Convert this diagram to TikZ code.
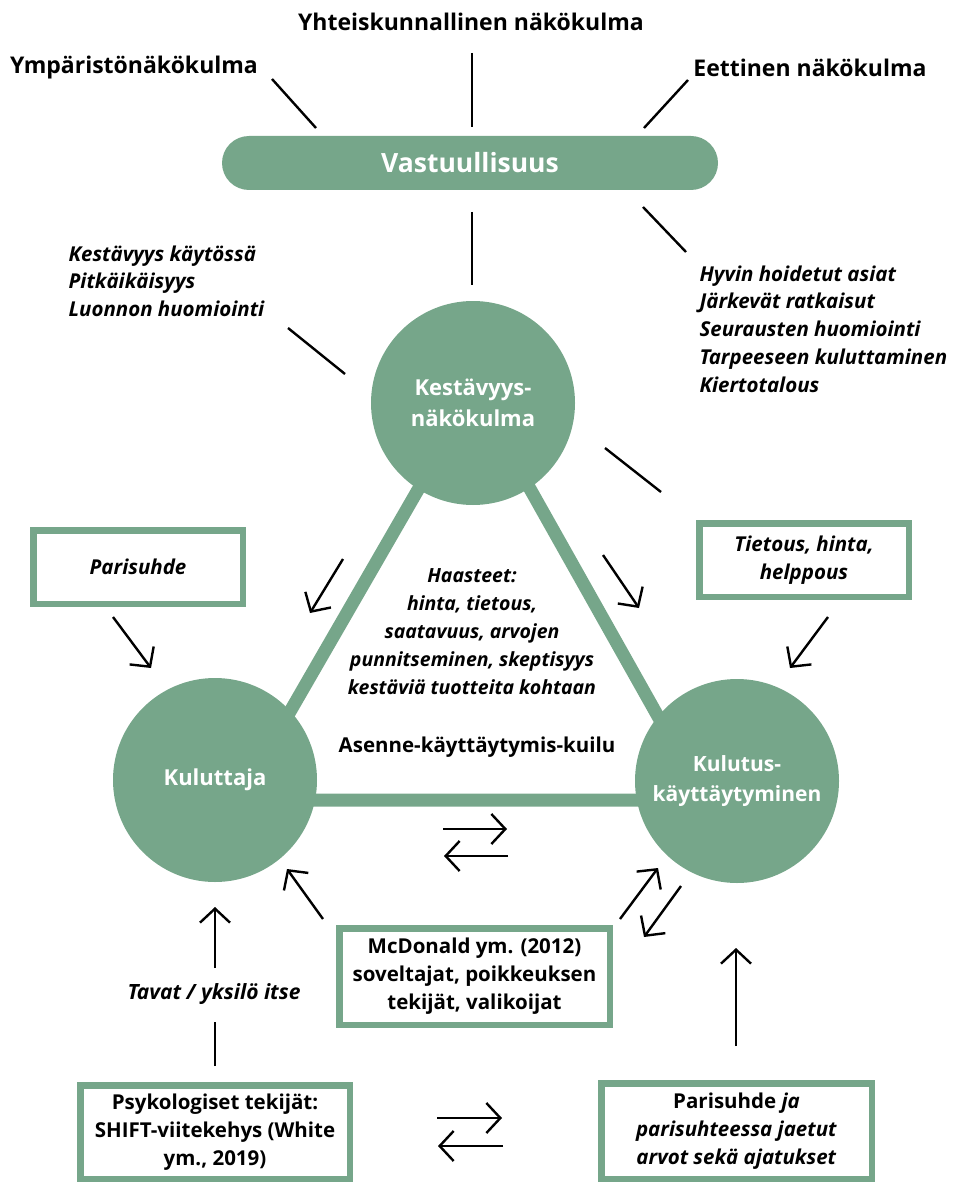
\documentclass[tikz,border=0pt]{standalone}
\usepackage{fontspec}
\setmainfont{Open Sans}
\usetikzlibrary{arrows.meta}
\definecolor{vihrea}{RGB}{118,166,138}
\begin{document}
\begin{tikzpicture}[x=1pt,y=-1pt,
    viiva/.style={line width=2.4pt},
    nuoli/.style={line width=2.4pt,-{Straight Barb[length=14pt,width=30pt]}},
    ympyra/.style={circle,fill=vihrea,minimum size=204pt,inner sep=0pt,text=white,align=center,font=\bfseries\fontsize{22}{31}\selectfont},
    laatikko/.style={draw=vihrea,line width=6.5pt,fill=white,align=center,inner sep=0pt,font=\bfseries\fontsize{20.5}{28}\selectfont},
    teksti/.style={align=center,font=\bfseries\fontsize{20.5}{28}\selectfont},
    kursiivi/.style={align=left,font=\bfseries\itshape\fontsize{20.5}{27.7}\selectfont}]
  \useasboundingbox (0,0) rectangle (955,1182);
  % nakokulmat ylhaalla
  \node[teksti,font=\bfseries\fontsize{23}{26}\selectfont] (yht) at (471,22) {Yhteiskunnallinen näkökulma};
  \node[teksti,font=\bfseries\fontsize{23}{26}\selectfont] (ymp) at (134,68) {Ympäristönäkökulma};
  \node[teksti,font=\bfseries\fontsize{23}{26}\selectfont] (eet) at (810,68) {Eettinen näkökulma};
  \node[fill=vihrea,rounded corners=27pt,minimum width=496pt,minimum height=54pt,text=white,font=\bfseries\fontsize{26.5}{30}\selectfont] (vast) at (470,163) {Vastuullisuus};
  \draw[viiva] (272,79) coordinate (s1) -- (316,128) coordinate (s2);
  \draw[viiva] (472,53) coordinate (s3) -- (472,127) coordinate (s4);
  \draw[viiva] (688,80) coordinate (s5) -- (644,128) coordinate (s6);
  \draw[viiva] (472,212) coordinate (s7) -- (472,285) coordinate (s8);
  \draw[viiva] (643,207) coordinate (s9) -- (686,252) coordinate (s10);
  \draw[viiva] (288,328) coordinate (s11) -- (345,374) coordinate (s12);
  \draw[viiva] (605,448) coordinate (s13) -- (661,492) coordinate (s14);
  \node[kursiivi,anchor=west,font=\bfseries\itshape\fontsize{20.5}{27.5}\selectfont] (vasen) at (65,281) {Kestävyys käytössä\\Pitkäikäisyys\\Luonnon huomiointi};
  \node[kursiivi,anchor=west] (oikea) at (696,329) {Hyvin hoidetut asiat\\Järkevät ratkaisut\\Seurausten huomiointi\\Tarpeeseen kuluttaminen\\Kiertotalous};
  % kolmio ja ympyrat
  \draw[vihrea,line width=13pt] (475,391) coordinate (k1) -- (239,800) coordinate (k2) -- (705,800) coordinate (k3) -- cycle;
  \node[ympyra] (kest) at (473,403) {Kestävyys-\\näkökulma};
  \node[ympyra] (kul) at (215,780) {Kuluttaja};
  \node[ympyra,font=\bfseries\fontsize{21}{30}\selectfont] (kaytt) at (737,781) {Kulutus-\\käyttäytyminen};
  \node[teksti,font=\bfseries\itshape\fontsize{19.5}{28}\selectfont] (haast) at (472,632) {Haasteet:\\hinta, tietous,\\saatavuus, arvojen\\punnitseminen, skeptisyys\\kestäviä tuotteita kohtaan};
  \node[teksti] (kuilu) at (477,747) {Asenne-käyttäytymis-kuilu};
  % laatikot
  \node[laatikko,minimum width=209.5pt,minimum height=73.5pt,font=\bfseries\itshape\fontsize{20.5}{28}\selectfont] (pari) at (138,567) {Parisuhde};
  \node[laatikko,minimum width=209.5pt,minimum height=73.5pt,font=\bfseries\itshape\fontsize{20.5}{28}\selectfont] (tieto) at (804,560) {Tietous, hinta,\\helppous};
  \node[laatikko,minimum width=270.5pt,minimum height=96.5pt] (mcd) at (474.5,976.5) {McDonald ym. (2012)\\soveltajat, poikkeuksen\\tekijät, valikoijat};
  \node[laatikko,minimum width=269.5pt,minimum height=93.5pt] (psyk) at (215,1132) {Psykologiset tekijät:\\SHIFT-viitekehys (White\\ym., 2019)};
  \node[laatikko,minimum width=270.5pt,minimum height=95.5pt] (parja) at (736.5,1131) {Parisuhde \textit{ja}\\\textit{parisuhteessa jaetut}\\\textit{arvot sekä ajatukset}};
  \node[teksti,font=\bfseries\itshape\fontsize{21}{28}\selectfont] (tavat) at (214,994) {Tavat / yksilö itse};
  % nuolet
  \draw[nuoli] (113,617) coordinate (n1) -- (151,668) coordinate (n2);
  \draw[nuoli] (343,559) coordinate (n3) -- (310,613) coordinate (n4);
  \draw[nuoli] (603,555) coordinate (n5) -- (639,608) coordinate (n6);
  \draw[nuoli] (828,617) coordinate (n7) -- (790,668) coordinate (n8);
  \draw[nuoli] (443,829) coordinate (n9) -- (507,829) coordinate (n10);
  \draw[nuoli] (508,856) coordinate (n11) -- (444,856) coordinate (n12);
  \draw[nuoli] (437,1118) coordinate (n13) -- (502,1118) coordinate (n14);
  \draw[nuoli] (503,1146) coordinate (n15) -- (438,1146) coordinate (n16);
  \draw[nuoli] (323,919) coordinate (n17) -- (287,869) coordinate (n18);
  \draw[nuoli] (620,919) coordinate (n19) -- (658,868) coordinate (n20);
  \draw[nuoli] (681,886) coordinate (n21) -- (644,937) coordinate (n22);
  \draw[nuoli] (215,968) coordinate (n23) -- (215,907) coordinate (n24);
  \draw[viiva] (215,1066) coordinate (n25) -- (215,1022) coordinate (n26);
  \draw[nuoli] (736,1046) coordinate (n27) -- (736,948) coordinate (n28);
\end{tikzpicture}
\end{document}
